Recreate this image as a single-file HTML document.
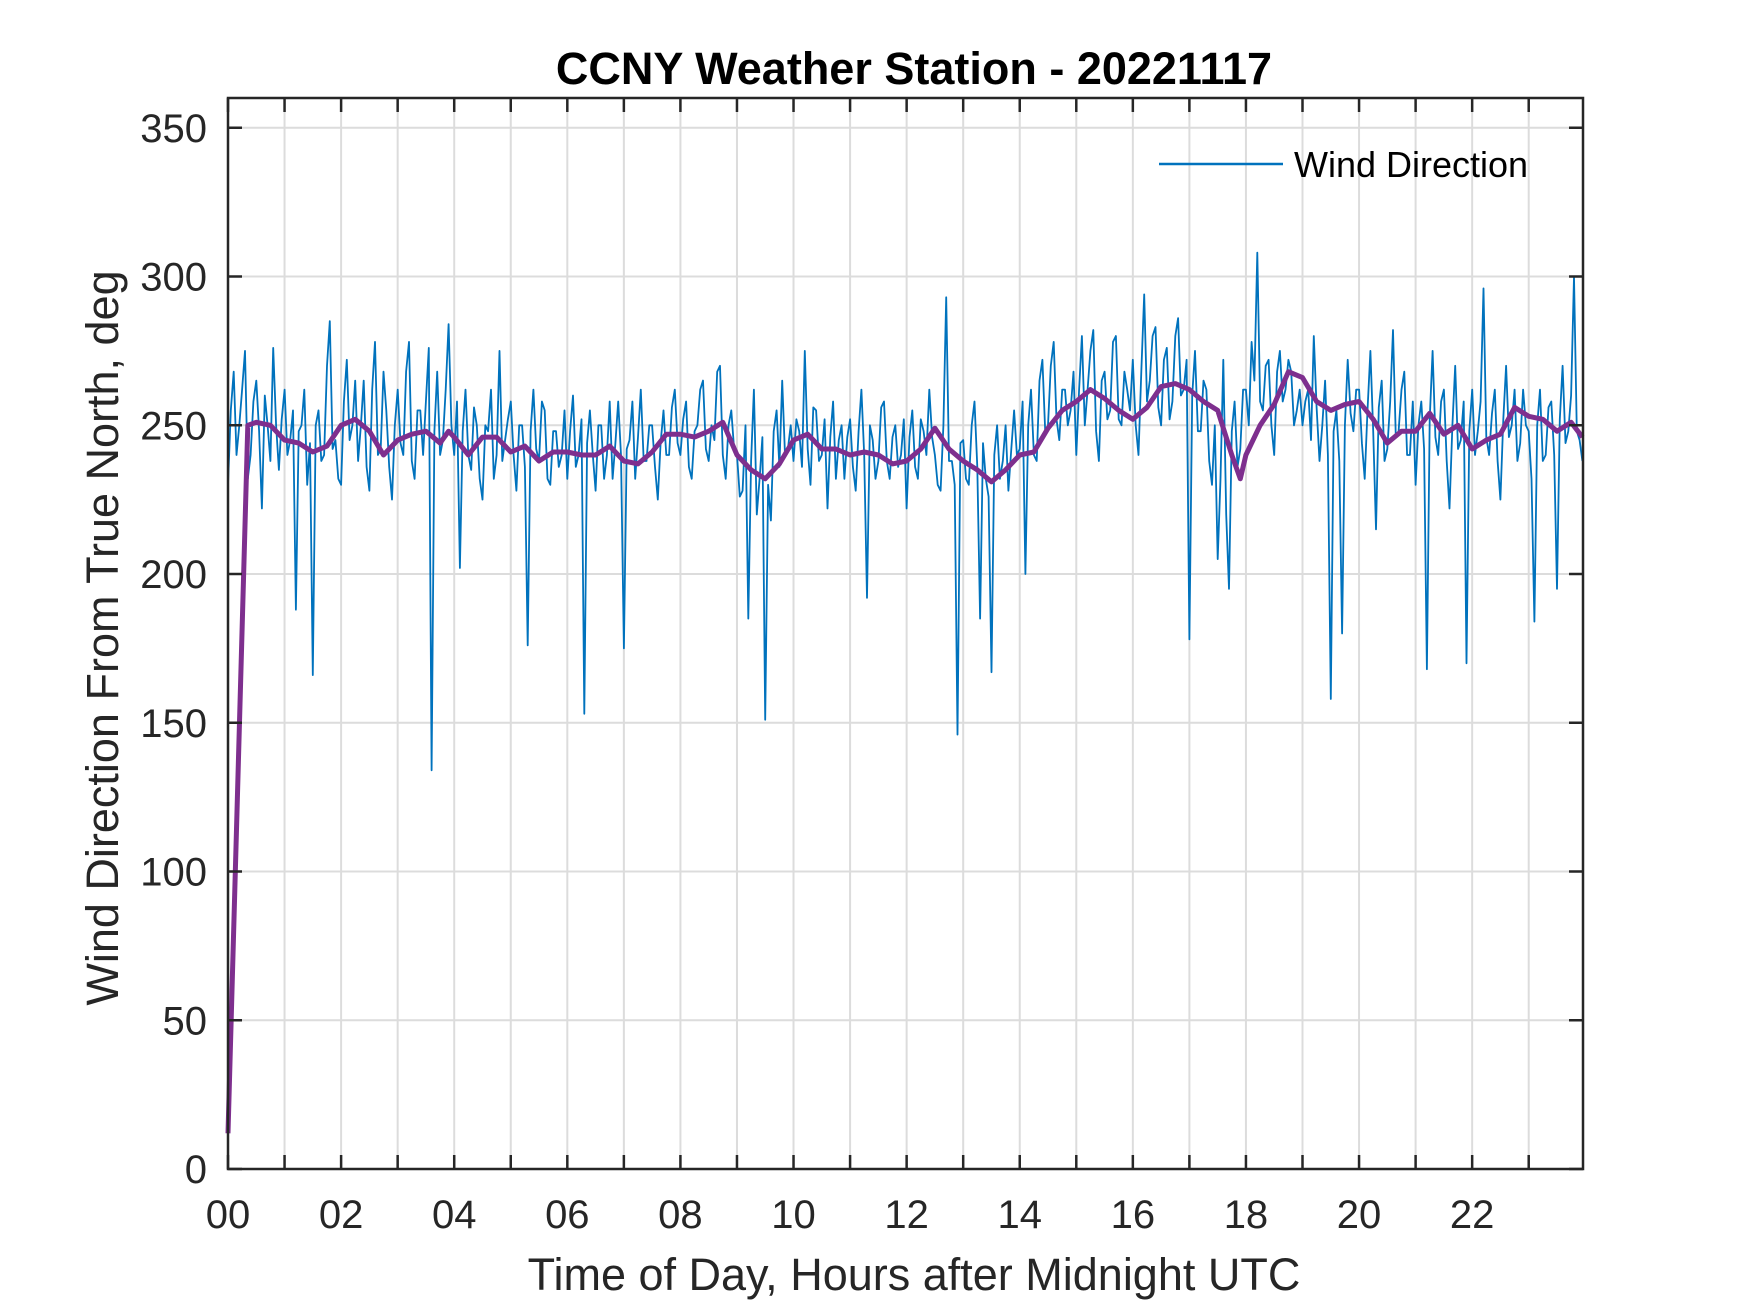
<!DOCTYPE html>
<html><head><meta charset="utf-8"><style>
html,body{margin:0;padding:0;background:#fff;}
svg{display:block;font-family:"Liberation Sans",Arial,sans-serif;}
</style></head><body>
<svg id="chart" width="1750" height="1313" viewBox="0 0 1750 1313">
<rect x="0" y="0" width="1750" height="1313" fill="#fff"/>
<g id="grid"></g>
<g id="series"></g>
<g id="axes"></g>
<text x="914" y="84" text-anchor="middle" font-size="45" font-weight="bold" fill="#000">CCNY Weather Station - 20221117</text>
<text x="914" y="1290" text-anchor="middle" font-size="45" fill="#262626">Time of Day, Hours after Midnight UTC</text>
<text transform="translate(118,638) rotate(-90)" text-anchor="middle" font-size="45" fill="#262626">Wind Direction From True North, deg</text>
<g>
<line x1="1159" y1="164" x2="1283" y2="164" stroke="#0072BD" stroke-width="2.5"/>
<text x="1294" y="177" font-size="36" fill="#000">Wind Direction</text>
</g>
</svg>
<script>
const blueStep = 0.05;
const blueValues = [
230,255,268,240,250,262,275,232,240,258,265,248,222,260,250,238,276,250,235,252,
262,240,245,255,188,248,250,262,230,244,166,250,255,238,240,270,285,242,245,232,
230,258,272,245,250,265,238,250,265,236,228,262,278,240,242,268,255,236,225,250,
262,244,240,268,278,238,232,255,255,240,258,276,134,248,268,240,245,262,284,250,
240,258,202,248,262,240,235,256,250,232,225,250,248,262,232,240,275,238,245,252,
258,240,228,250,250,236,176,248,262,242,238,258,255,232,230,248,248,236,240,255,
232,248,260,236,240,252,153,244,255,240,228,250,250,232,240,258,232,244,258,240,
175,242,245,258,232,246,262,238,238,250,250,236,225,244,255,240,240,256,262,244,
240,252,258,236,232,248,250,262,265,242,238,250,245,268,270,240,232,250,255,242,
240,226,228,250,185,238,262,220,232,246,151,230,218,248,255,236,265,240,242,250,
238,252,248,236,275,242,230,256,255,238,240,252,222,246,258,232,245,250,232,246,
252,236,228,248,262,240,192,250,245,232,238,256,258,238,232,246,250,236,240,252,
222,246,255,236,232,252,248,240,262,246,240,230,228,250,293,238,238,230,146,244,
245,232,230,250,258,236,185,244,232,226,167,240,250,232,238,250,228,242,255,240,
242,258,200,250,262,240,238,265,272,248,250,270,278,252,245,262,262,250,255,268,
240,262,280,250,262,275,282,248,238,265,268,252,255,278,280,252,250,268,262,255,
272,250,240,268,294,258,265,280,283,256,250,272,276,252,258,280,286,260,262,272,
178,260,275,248,248,265,262,238,230,250,205,232,272,220,195,248,258,236,242,262,
262,250,278,265,308,258,255,270,272,250,240,268,275,258,262,272,268,250,255,262,
250,258,262,245,280,256,238,250,265,240,158,248,255,238,180,250,272,254,248,262,
262,244,232,255,275,248,215,256,265,238,242,258,282,246,248,262,268,240,240,258,
230,250,258,242,168,252,275,246,240,258,262,238,222,250,270,242,245,258,170,248,
262,240,248,258,296,246,240,254,262,238,225,252,270,246,250,262,238,244,262,250,
248,232,184,250,262,238,240,256,258,240,195,252,270,244,248,260,300,248,245,238
];
const meanHours = [0,0.35,0.5,0.75,1,1.25,1.5,1.75,2,2.25,2.5,2.75,3,3.25,3.5,3.75,3.9,4,4.25,4.5,4.75,5,5.25,5.5,5.75,6,6.25,6.5,6.75,7,7.25,7.5,7.75,8,8.25,8.5,8.75,9,9.25,9.5,9.75,10,10.25,10.5,10.75,11,11.25,11.5,11.75,12,12.25,12.5,12.75,13,13.25,13.5,13.75,14,14.25,14.5,14.75,15,15.25,15.5,15.75,16,16.25,16.5,16.75,17,17.25,17.5,17.75,17.9,18,18.25,18.5,18.75,19,19.25,19.5,19.75,20,20.25,20.5,20.75,21,21.25,21.5,21.75,22,22.25,22.5,22.75,23,23.25,23.5,23.75,23.95];
const meanValues = [12,250,251,250,245,244,241,243,250,252,248,240,245,247,248,244,248,246,240,246,246,241,243,238,241,241,240,240,243,238,237,241,247,247,246,248,251,240,235,232,237,245,247,242,242,240,241,240,237,238,242,249,242,238,235,231,235,240,241,249,255,258,262,259,255,252,256,263,264,262,258,255,240,232,240,250,257,268,266,258,255,257,258,252,244,248,248,254,247,250,242,245,247,256,253,252,248,251,246];
const yTicks = [0,50,100,150,200,250,300,350];
const xTickLabels = ["00","02","04","06","08","10","12","14","16","18","20","22"];

const L=228,R=1583,T=98,B=1169,XMAX=23.96,YMAX=360;
const sx=h=>L+(h/XMAX)*(R-L);
const sy=v=>B-(v/YMAX)*(B-T);
const NS="http://www.w3.org/2000/svg";
function mk(tag,attrs,parent){const e=document.createElementNS(NS,tag);for(const k in attrs)e.setAttribute(k,attrs[k]);parent.appendChild(e);return e;}
const grid=document.getElementById('grid'),axes=document.getElementById('axes'),series=document.getElementById('series');
for(let h=0;h<24;h++){
  const x=sx(h);
  const g=mk('line',{x1:x,y1:T,x2:x,y2:B,stroke:'#dcdcdc','stroke-width':2},grid);
  
  
  const t1=mk('line',{x1:x,y1:B,x2:x,y2:B-14,stroke:'#262626','stroke-width':2.5},axes);
  
  
  const t2=mk('line',{x1:x,y1:T,x2:x,y2:T+14,stroke:'#262626','stroke-width':2.5},axes);
  
  
}
xTickLabels.forEach((lab,i)=>{
  const t=mk('text',{x:sx(i*2),y:1228,'text-anchor':'middle','font-size':40,fill:'#262626'},axes);
  t.textContent=lab;
  
  
});
yTicks.forEach(v=>{
  const y=sy(v);
  const g=mk('line',{x1:L,y1:y,x2:R,y2:y,stroke:'#dcdcdc','stroke-width':2},grid);
  
  
  const t1=mk('line',{x1:L,y1:y,x2:L+14,y2:y,stroke:'#262626','stroke-width':2.5},axes);
  
  
  const t2=mk('line',{x1:R,y1:y,x2:R-14,y2:y,stroke:'#262626','stroke-width':2.5},axes);
  
  
  const t=mk('text',{x:207,y:y+14,'text-anchor':'end','font-size':40,fill:'#262626'},axes);
  t.textContent=String(v);
  
  
});
const box=mk('rect',{x:L,y:T,width:R-L,height:B-T,fill:'none',stroke:'#262626','stroke-width':2.5},axes);


const bp=blueValues.map((v,i)=>sx(i*blueStep).toFixed(1)+','+sy(v).toFixed(1)).join(' ');
const blue=mk('polyline',{points:bp,fill:'none',stroke:'#0072BD','stroke-width':1.8,'stroke-linejoin':'round'},series);


const mp=meanValues.map((v,i)=>sx(meanHours[i]).toFixed(1)+','+sy(v).toFixed(1)).join(' ');
const mean=mk('polyline',{points:mp,fill:'none',stroke:'#7E2F8E','stroke-width':5,'stroke-linejoin':'round'},series);


</script>
</body></html>
